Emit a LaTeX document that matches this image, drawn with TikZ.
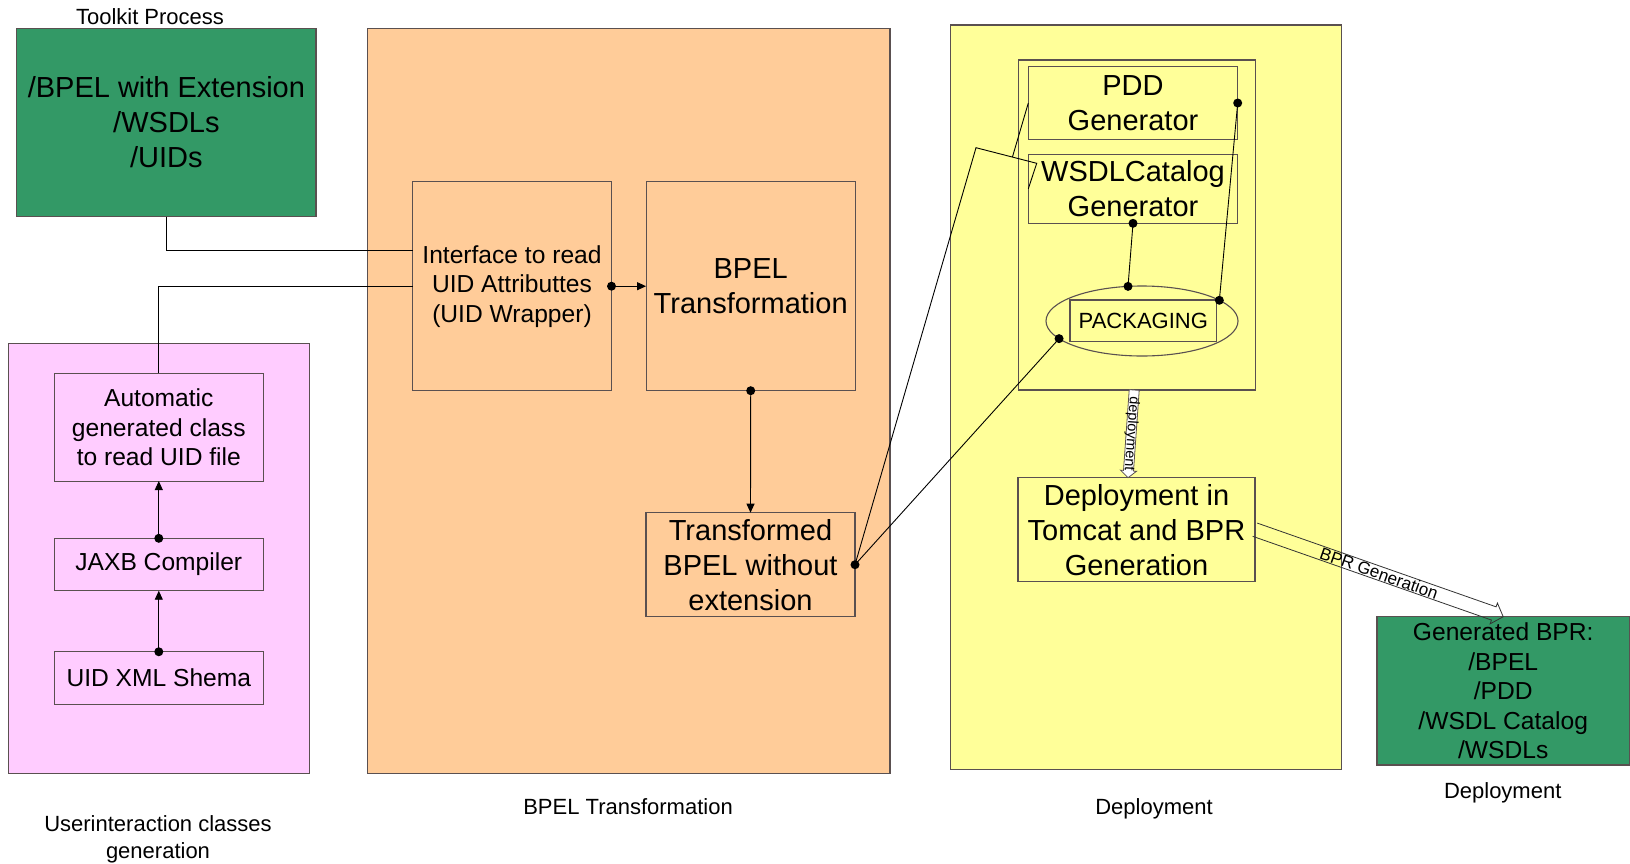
\documentclass[tikz,border=0pt]{standalone}
\usepackage{fontspec}
\setmainfont{Liberation Sans}
\usetikzlibrary{calc,arrows.meta,shapes.geometric}
\definecolor{tkgreen}{HTML}{339966}
\definecolor{tkorange}{HTML}{FFCC99}
\definecolor{tkpink}{HTML}{FFCCFF}
\definecolor{tkyellow}{HTML}{FFFF99}
\definecolor{bordc}{HTML}{5A5050}
\begin{document}
\begin{tikzpicture}[x=1pt,y=-1pt,
  region/.style={draw=bordc,line width=1.2pt,inner sep=0pt,outer sep=0pt,rectangle,align=center},
  boxnode/.style={draw=bordc,line width=1.1pt,inner sep=0pt,outer sep=0pt,rectangle,align=center},
  bigtxt/.style={font=\fontsize{29}{35}\selectfont},
  midtxt/.style={font=\fontsize{24.6}{29.5}\selectfont},
  lbl/.style={font=\fontsize{22}{26.7}\selectfont,align=center,inner sep=0pt},
  conn/.style={draw=black,line width=0.9pt},
  arr/.style={conn,-{Triangle[length=9pt,width=8pt]}},
  dotr/.style={fill=black}
]
\fill[white] (0,0) rectangle (1630,863);
\useasboundingbox (0,0) rectangle (1630,863);

% containers
\node[region,fill=tkgreen,minimum width=299.3pt,minimum height=188.4pt,bigtxt] (src) at (166.4,122.5) {/BPEL with Extension\\/WSDLs\\/UIDs};
\node[region,fill=tkpink,minimum width=301pt,minimum height=430pt] (pinkbg) at (158.8,558.3) {};
\node[region,fill=tkorange,minimum width=522.3pt,minimum height=745pt] (orangebg) at (628.9,400.8) {};
\node[region,fill=tkyellow,minimum width=391.5pt,minimum height=744.3pt] (yellowbg) at (1146,397.2) {};
\node[region,fill=tkgreen,minimum width=252.3pt,minimum height=148.3pt,midtxt] (out) at (1503.2,690.9) {Generated BPR:\\/BPEL\\/PDD\\/WSDL Catalog\\/WSDLs};

% labels
\node[lbl] (lblsrc) at (150,16.7) {Toolkit Process};
\node[lbl] (lbluser) at (158,839.5) {Userinteraction classes\\generation};
\node[lbl] (lbltr) at (628,806.7) {BPEL Transformation};
\node[lbl] (lbldep) at (1154,808.7) {Deployment};
\node[lbl] (lbldep2) at (1502.7,793) {Deployment};

% pink boxes
\node[boxnode,minimum width=209.5pt,minimum height=107.7pt,midtxt] (auto) at (158.8,427.2) {Automatic\\generated class\\to read UID file};
\node[boxnode,minimum width=209pt,minimum height=52.4pt,midtxt] (jaxb) at (158.8,564.5) {JAXB Compiler};
\node[boxnode,minimum width=209pt,minimum height=52.3pt,midtxt] (uid) at (158.8,677.9) {UID XML Shema};

% orange boxes
\node[boxnode,minimum width=199pt,minimum height=209pt,midtxt] (iface) at (512,286.2) {Interface to read\\UID Attributtes\\(UID Wrapper)};
\node[boxnode,minimum width=209.3pt,minimum height=209pt,bigtxt] (bpel) at (750.7,286.2) {BPEL\\Transformation};
\node[boxnode,minimum width=209pt,minimum height=104pt,bigtxt] (trans) at (750.5,564.7) {Transformed\\BPEL without\\extension};

% yellow boxes
\node[boxnode,minimum width=236.7pt,minimum height=330pt] (frame) at (1136.7,225) {};
\node[boxnode,minimum width=209.4pt,minimum height=72.6pt,bigtxt] (pdd) at (1133,103) {PDD\\Generator};
\node[boxnode,minimum width=209.4pt,minimum height=69pt,bigtxt] (wsdl) at (1133,188.8) {WSDLCatalog\\Generator};
\node[draw=bordc,line width=1.1pt,ellipse,minimum width=192pt,minimum height=70pt,inner sep=0pt,outer sep=0pt] (ell) at (1142,321) {};
\node[boxnode,minimum width=146.7pt,minimum height=41.7pt,font=\fontsize{22}{26}\selectfont] (pack) at (1143.3,320.8) {PACKAGING};
\node[boxnode,minimum width=237pt,minimum height=104pt,bigtxt] (dep) at (1136.5,529.7) {Deployment in\\Tomcat and BPR\\Generation};

% connectors in left part
\draw[conn] (src.south) |- ($(iface.west)+(0,-35.5)$);
\draw[conn] (auto.north) |- (iface.west);
\draw[arr] (iface.east) -- (bpel.west);
\fill[dotr] (iface.east) circle (4.5pt);
\draw[arr] (bpel.south) -- (trans.north);
\fill[dotr] (bpel.south) circle (4.5pt);
\draw[arr] (uid.north) -- (jaxb.south);
\fill[dotr] (uid.north) circle (4.5pt);
\draw[arr] (jaxb.north) -- (auto.south);
\fill[dotr] (jaxb.north) circle (4.5pt);

% connectors to deployment part
\coordinate (kA) at (976,147.7);
\coordinate (kB) at (1036.7,163.3);
\coordinate (kD) at ($(kA)!0.6!(kB)$);
\draw[conn] (trans.east) -- (kA) -- (kB) -- (wsdl.west);
\draw[conn] (kD) -- (pdd.west);
\draw[conn] (trans.east) -- (ell.192.5);
\draw[conn] (wsdl.south) -- (ell.112);
\draw[conn] (pdd.east) -- (ell.15);
\foreach \p in {trans.east,ell.192.5,wsdl.south,ell.112,pdd.east,ell.15}
  \fill[dotr] (\p) circle (4.5pt);

% fat arrow: deployment
\coordinate (dS) at ($(frame.south)+(-2.5,0)$);
\coordinate (dE) at ($(dep.north)+(-8.5,0)$);
\coordinate (dH) at ($(dE)!7pt!(dS)$);
\draw[draw=bordc,fill=white,line width=0.8pt]
  ($(dS)!5pt!90:(dE)$) -- ($(dH)!5pt!90:(dE)$) -- ($(dH)!8pt!90:(dE)$) -- (dE)
  -- ($(dH)!8pt!-90:(dE)$) -- ($(dH)!5pt!-90:(dE)$) -- ($(dS)!5pt!-90:(dE)$) -- cycle;
\path (dS) -- (dE) node[midway,sloped,allow upside down,inner sep=0pt,font=\fontsize{14.5}{16}\selectfont] (deptxt) {deployment};

% fat arrow: BPR Generation
\coordinate (bS) at (dep.east);
\coordinate (bE) at (out.north);
\coordinate (bH) at ($(bE)!10pt!(bS)$);
\draw[draw=black!80,line width=0.8pt]
  ($(bS)!7pt!90:(bE)$) -- ($(bH)!7pt!90:(bE)$) -- ($(bH)!11pt!90:(bE)$) -- (bE)
  -- ($(bH)!11pt!-90:(bE)$) -- ($(bH)!7pt!-90:(bE)$) -- ($(bS)!7pt!-90:(bE)$);
\path (bS) -- (bE) node[midway,sloped,inner sep=0pt,font=\fontsize{17}{19}\selectfont] (bprtxt) {BPR Generation};
\end{tikzpicture}
\end{document}
